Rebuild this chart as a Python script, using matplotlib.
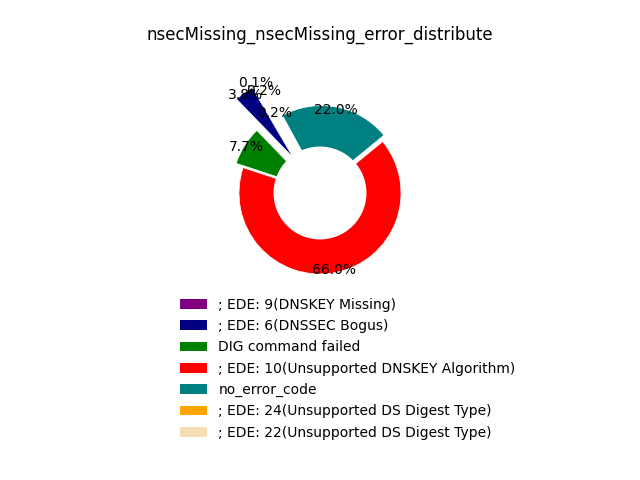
import matplotlib
matplotlib.use('Agg')
import matplotlib.pyplot as plt

labels = ['; EDE: 9(DNSKEY Missing)', '; EDE: 6(DNSSEC Bogus)', 'DIG command failed',
          '; EDE: 10(Unsupported DNSKEY Algorithm)', 'no_error_code',
          '; EDE: 24(Unsupported DS Digest Type)', '; EDE: 22(Unsupported DS Digest Type)']
values = [0.1, 3.8, 7.7, 66.0, 22.0, 0.2, 0.2]
colors = ['purple', 'navy', 'green', 'red', 'teal', 'orange', 'wheat']
explode = [0.6, 0.55, 0.1, 0.0, 0.08, 0.47, 0.17]

fig = plt.figure(figsize=(6.4, 4.8), dpi=100)
ax = fig.add_axes([0.3418, 0.387, 0.3164, 0.4219])

wedges, texts, autotexts = ax.pie(values, colors=colors, explode=explode, startangle=120,
                                  autopct='%1.1f%%', pctdistance=0.97,
                                  wedgeprops={'edgecolor': 'white', 'linewidth': 0.5})
ax.add_artist(plt.Circle((0, 0), 0.565, color='white'))
for t in autotexts:
    t.set_zorder(5)
ax.set_aspect('equal')

fig.text(0.5, 1 - 35 / 480, 'nsecMissing_nsecMissing_error_distribute', ha='center', va='center', fontsize=12)
leg = fig.legend(wedges, labels, loc='upper left', bbox_to_anchor=(167 / 640, 1 - 285 / 480),
                 frameon=False, labelspacing=0.53)
for h in leg.legend_handles:
    h.set_edgecolor('none')

fig.savefig('out.png')
